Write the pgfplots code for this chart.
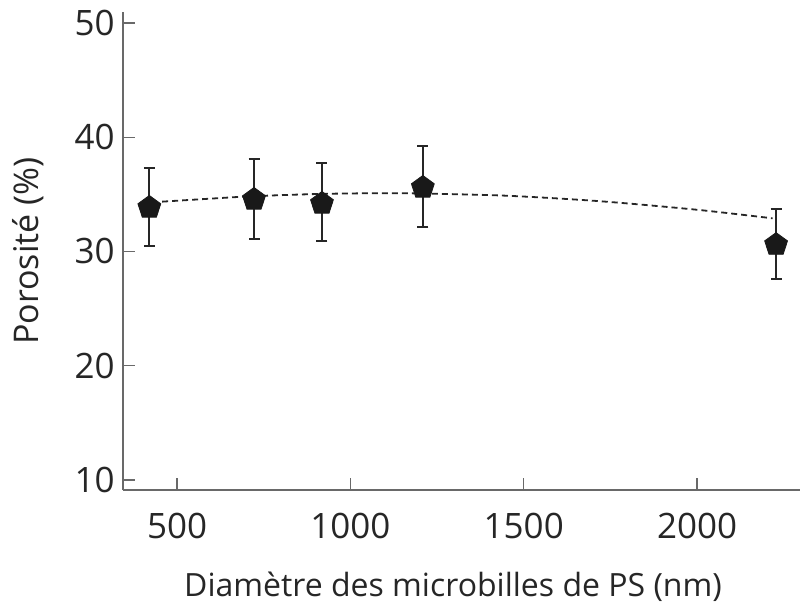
\documentclass[border=0pt]{standalone}
\usepackage{pgfplots}
\pgfplotsset{compat=1.18}
\usepackage{fontspec}
\setmainfont{Open Sans}
\usetikzlibrary{calc}
\definecolor{axisgray}{RGB}{105,105,105}

\begin{document}
\begin{tikzpicture}
\begin{axis}[
scale only axis,
width=338.5pt,
height=239pt,
xmin=344, xmax=2297,
ymin=9.12, ymax=50.96,
xtick={500,1000,1500,2000},
ytick={10,20,30,40,50},
axis lines*=left,
axis line style={axisgray, line width=0.9pt},
tick align=inside,
major tick length=6pt,
tick style={axisgray, line width=0.7pt},
/pgf/number format/assume math mode=true,
/pgf/number format/set thousands separator={},
tick label style={font=\fontsize{17.5}{20}\selectfont, text=black!85},
yticklabel style={inner sep=0pt, xshift=-4pt},
xticklabel style={anchor=base, inner sep=0pt, yshift=-24pt},
xlabel={Diamètre des microbilles de PS (nm)},
ylabel={Porosité (\%)},
xlabel style={font=\fontsize{16}{19}\selectfont, text=black!85, at={(axis description cs:0.4875,-0.2218)}, anchor=base, inner sep=0pt},
ylabel style={font=\fontsize{17}{20}\selectfont, text=black!85, at={(axis description cs:-0.1403,0.5)}, anchor=center, inner sep=0pt},
clip=false,
]
% fitted trend
\addplot[black!85, line width=0.9pt, dash pattern=on 3pt off 2pt, smooth] coordinates {
	(457,34.36)
	(600,34.63)
	(722,34.84)
	(918,35.04)
	(1100,35.10)
	(1209,35.07)
	(1450,34.88)
	(1719,34.40)
	(2000,33.65)
	(2218,32.90)
};
% measured porosity with error bars
\addplot[
	only marks,
	mark=pentagon*,
	mark size=6pt,
	mark options={fill=black!90, draw=black!90},
	error bars/.cd,
	y dir=both, y explicit,
	error bar style={black!85, line width=1pt},
	error mark options={rotate=90, mark size=2.75pt, line width=1pt, black!85},
] coordinates {
	(420,33.85) += (0,3.45) -= (0,3.35)
	(722,34.55) += (0,3.50) -= (0,3.45)
	(918,34.20) += (0,3.50) -= (0,3.30)
	(1209,35.60) += (0,3.60) -= (0,3.50)
	(2228,30.60) += (0,3.10) -= (0,3.00)
};
\end{axis}
\pgfresetboundingbox
\path ($(current axis.south west)+(-61.5pt,-56.5pt)$) rectangle ($(current axis.north east)+(1pt,6pt)$);
\end{tikzpicture}
\end{document}
